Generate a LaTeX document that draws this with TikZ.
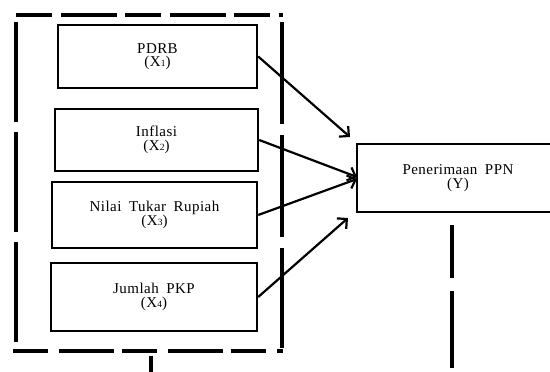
\documentclass[tikz,border=0pt]{standalone}
\usepackage{fontspec}
\setmainfont{Liberation Serif}[LetterSpace=3,WordSpace=1.8]
\usetikzlibrary{arrows.meta,positioning}
\newcommand{\sbs}[1]{{\fontsize{9.5}{9}\selectfont #1}}
\begin{document}
\begin{tikzpicture}[x=1pt,y=-1pt,>={Straight Barb[length=7pt,width=14pt]}]
        \tikzstyle{varbox}=[draw,line width=2.4pt,align=center,inner sep=0pt,font=\fontsize{15}{13.5}\selectfont]
        \tikzstyle{frame}=[line width=3.6pt]
        \clip (0,0) rectangle (550,372);

        % Independent variables
        \node (pdrb)[varbox,minimum width=199pt,minimum height=63pt] at (157.5,56.5) {PDRB\\(X\sbs{1})};
        \node (infl)[varbox,minimum width=203pt,minimum height=62pt] at (156.5,140) {Inflasi\\(X\sbs{2})};
        \node (kurs)[varbox,minimum width=205pt,minimum height=66pt] at (154.5,215) {Nilai Tukar Rupiah\\(X\sbs{3})};
        \node (pkp)[varbox,minimum width=206pt,minimum height=68pt] at (154,297) {Jumlah PKP\\(X\sbs{4})};

        % Dependent variable
        \node (ppn)[varbox,minimum width=202pt,minimum height=68pt] at (458,178) {Penerimaan PPN\\(Y)};

        % Arrow ends
        \coordinate (t1) at (350,137);
        \coordinate (t2) at (357,177);
        \coordinate (t3) at (357,179);
        \coordinate (t4) at (348,218);

        % Arrows
        \draw[->,line width=2.2pt] (pdrb.east) -- (t1);
        \draw[->,line width=2.2pt] (infl.east) -- (t2);
        \draw[->,line width=2.2pt] (kurs.east) -- (t3);
        \draw[->,line width=2.2pt] (pkp.east) -- (t4);

        % Dashed frame
        \draw[frame,dash pattern=on 36pt off 9pt on 56pt off 8pt] (16,15) -- (283,15);
        \draw[frame,dash pattern=on 35pt off 11pt on 55pt off 8pt] (13,351) -- (283,351);
        \draw[frame,dash pattern=on 100pt off 10pt] (16,22) -- (16,348);
        \draw[frame,dash pattern=on 102pt off 11pt] (282,22) -- (282,348);

        % Loose dashes
        \draw[frame] (151,356) -- (151,372);
        \draw[frame,dash pattern=on 53pt off 13pt on 80pt off 5pt] (452,225) -- (452,368);
\end{tikzpicture}
\end{document}
